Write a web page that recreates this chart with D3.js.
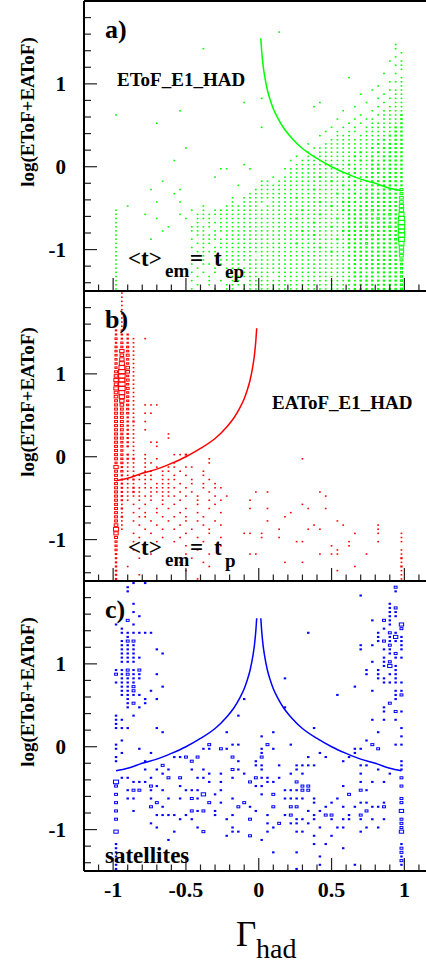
<!DOCTYPE html>
<html>
<head>
<meta charset="utf-8">
<script src="https://cdn.jsdelivr.net/npm/d3@7"></script>
<style>
  body { margin: 0; background: #fff; }
  svg { display: block; }
  text { font-family: "Liberation Serif", "Times New Roman", serif; }
</style>
</head>
<body>
<div id="chart"></div>
<script>
// axis ticks and labels
const xTickValues = [-1, -0.5, 0, 0.5, 1];
const xTickLabels = ["-1", "-0.5", "0", "0.5", "1"];
const yTickValues = [1, 0, -1];
const yTickLabels = ["1", "0", "-1"];

const panelTags = ["a)", "b)", "c)"];
const panelColors = ["#00ff00", "#ff0000", "#0000ff"];
const histNames = ["EToF_E1_HAD", "EAToF_E1_HAD", ""];

// histogram binning: 50 bins in Gamma (-1..1), 70 bins in log (2..-1.5), row 0 = top
const gammaBins = [-1, 1, 50];
const logBins = [2, -1.5, 70];

// box levels (0..9, '.' = empty), one string per row
const gridA = [
  ".......... .......... .......... .......... ..........",
  ".......... .......... .......... .......... ..........",
  ".......... .......... .......... .......... ..........",
  ".......... .......... .......... .......... ..........",
  ".......... .......... .......... .......... ..........",
  ".......... .......... .......... .......... ..........",
  ".......... .......... .......... .......... ..........",
  ".......... .......... ........1. .......... ..........",
  ".......... .......... .......... .......... ..........",
  ".......... .......... .......... .......... ..........",
  ".......... .......... .......... .......... ........1.",
  ".......... .....1.... .......... .......... ........1.",
  ".......... .......... .......... .......... .........1",
  ".......... .......... .......... .......... ........1.",
  ".......... .......... .......... .......... .......1.1",
  ".......... .......... .......... .......... ........11",
  ".......... .......... .......... .......... .........1",
  ".......... .......... .......... .......... ......1.1.",
  ".......... .......... .......... .......... 1........1",
  ".......... .......... .......... .......... .......111",
  ".......... .......... .......... .......... .....1...1",
  ".......... .......... .......... .......... ....1..111",
  ".......... .......... .......... .......... ..1...1.11",
  ".......... .......... .....1.... .......... .....1.111",
  ".......... .......... ..1....... .....1.... ...1..1.11",
  ".......... .......... .......... ....1..... .1...1.111",
  ".......... .1........ .......... .........1 ....1.1111",
  "1......... .......... .......... .......... ..1..11112",
  ".......... .......... .......... ........1. .1.11.1112",
  ".......1.. .......... .......... .......... 1.1.111112",
  ".......... .......... .....1.... .......1.1 .1.1111122",
  ".......... .......... .......... ......1.1. 11.1111122",
  ".......... .......... .......... .....1..11 1.11111222",
  ".......... .......... .......... .......111 1111112122",
  ".......... .......... .......... ...1..1111 1111121222",
  ".......... ..1....... .......... ....111111 1111212222",
  ".......... .......... .......... ...1.11111 1121121222",
  ".......... .......... .......... .1.1111111 1211212222",
  ".......... 1......... .......... 1.11111111 1121212222",
  ".......... .......... ..1....... .111111111 2111221222",
  ".......... ........11 ...1.....1 1111111111 1211222222",
  ".......... .......... .......... 1111111111 1211221222",
  ".......... .......1.. .......1.1 1111121111 2112212222",
  "........1. .......... .....11.11 1111111211 1211222222",
  ".......... .......... .1...11111 1111111112 1211222222",
  "......1... .1........ ....111111 1111211111 2112212224",
  ".......... 1......... ...1111111 1111111121 1212222224",
  ".......... .......... 1.11111111 1211111111 2122222225",
  ".......1.. .1........ 1.1111.111 1111121112 2212222225",
  "..1....... .....1...1 11111.1111 1111111211 2122222226",
  "1......... ...1.1.111 1111111111 1121111112 2222322226",
  "1....1.... .1..111111 1111111111 1111121111 2222222327",
  "1......1.. ..1.111.11 1111111111 1211111121 2222232228",
  "1......... ....1.1111 1111111111 1111211111 2222222229",
  "1........1 ...1111.11 1111111111 1111111211 2223222329",
  "1.......1. ...111.111 1111111111 1121111112 2222222228",
  "1......... ....1111.1 1111111111 1111211111 2222322229",
  "1.....1... ...1.11111 1111111111 1111111121 2222222238",
  "1......... ....111.11 1111111111 1211111111 2223222227",
  "1......... ...1.1.111 1111111111 1111121111 2222222226",
  "1......... ....1111.1 1111111111 1111111211 1222222226",
  "1......... ...1.1.1.1 1111.11111 1111111111 2222222225",
  "1......... ....11..11 1111111111 1111111111 1222222224",
  "1......... ...1.11.1. 11.1111111 1111111111 1212222223",
  "1......... ....1..1.1 1111111111 1111111111 2122222223",
  "1......... ...1.1.1.1 1.11111111 1111111111 1221222223",
  "1......... ....1.1..1 1111111.11 1111111111 1222212223",
  "1......... ...1..1.1. 11.1111111 1111111111 2122222223",
  "1......... ....1.1..1 1111111111 1111111111 1222222223",
  "1......... ...1...1.1 1.11111111 1111111111 1222222223"
];

const gridB = [
  ".1........ .......... .......... .......... ..........",
  ".1........ .......... .......... .......... ..........",
  ".1........ .......... .......... .......... ..........",
  ".1........ .......... .......... .......... ..........",
  ".1........ .......... .......... .......... ..........",
  ".1........ .......... .......... .......... ..........",
  ".1........ .......... .......... .......... ..........",
  ".1........ .......... .......... .......... ..........",
  ".1........ .......... .......... .......... ..........",
  "22........ .......... .......... .......... ..........",
  "222....... .......... .......... .......... ..........",
  "3221.1.... .......... .......... .......... ..........",
  "2321...... .......... .......... .......... ..........",
  "3331...... .......... .......... .......... ..........",
  "3631...... .......... .......... .......... ..........",
  "3541...... .......... .......... .......... ..........",
  "3631...... .......... .......... .......... ..........",
  "3731...... .......... .......... .......... ..........",
  "3851...... .......... .......... .......... ..........",
  "4951...... .......... .......... .......... ..........",
  "5931...... .......... .......... .......... ..........",
  "6841...... .......... .......... .......... ..........",
  "5931...... .......... .......... .......... ..........",
  "6941...... .......... .......... .......... ..........",
  "5831...... .......... .......... .......... ..........",
  "5731...... .......... .......... .......... ..........",
  "4631...... .......... .......... .......... ..........",
  "4531.111.. .......... .......... .......... ..........",
  "4431...... .......... .......... .......... ..........",
  "4431.11... .......... .......... .......... ..........",
  "4421...... .......... .......... .......... ..........",
  "4422.1.... .......... .......... .......... ..........",
  "4421...... .......... .......... .......... ..........",
  "4421.1.... .......... .......... .......... ..........",
  "4321.....1 .......... .......... .......... ..........",
  "4421.....1 .......... .......... .......... ..........",
  "4321..11.. .......... .......... .......... ..........",
  "4321...1.. .......... .......... .......... ..........",
  "43.1...... .......... .......... .......... ..........",
  "4321.1.... 112....... .......... .......... ..........",
  "4322.1.1.. ......1... .......... ..1....... ..........",
  "3311.11... 1.....1... .......... .......... ..........",
  "6211.1.1.1 1.11...... .......... .......... ..........",
  "4311.11.11 .1...1.... .......... .......... ..........",
  "4211111.1. 1.1..1.... .......... .......... ..........",
  "4212111.11 1..1..1... .......... .......... ..........",
  "4211.1.111 .1.1.1.1.. .......... .......... ..........",
  "4212111111 1.1..1.11. .......... .......... ..........",
  "42121.1111 .1.1..1... ....1.1... .....1.... ..........",
  "4211111.11 1.1.1..1.1 .......... ......1... ..........",
  "421.1.1.1. .1..1.1.1. ...1...... .......... ..........",
  "41.1.1..1. 1...1..1.. .......... ..1....... ..........",
  "42..1..1.1 ..1...1... ...1..1... ...1..1... ..........",
  "41.1.1.1.. .1..1...1. .......... 1......... ..........",
  "42..11..1. 1.1..1.... .........1 .......... ..........",
  "41.1..1..1 ..1.1..1.. ......1... ........1. ..........",
  "51..1..1.. .1...1..1. .......... ....1....1 .....1....",
  "71...1..1. 1..1..1... ........1. ...1.1.... .....1....",
  "6..1..1... ..1...1... ..11.1.... .......... .1...1...1",
  "4...1...1. .1..1...1. .....1..1. .......... .........1",
  "3..1...1.. 1....1.... .......... .11....... 1....1...1",
  "3....1.... ..1.....1. .......... .......1.. 1.........",
  "3..1...... ....1..... .......... ........1. .........1",
  "2.....1... ..1...1... ...11..... .....1.11. ...1.....1",
  "2...1..... ...1...... .......... .......... .........2",
  "2......... .1...1.... .........1 ..1....... .........1",
  "2.1....... ......1... .......... .......... .1.......2",
  "2......... ..1....... .......... ........1. .........1",
  "2...1..... .......... .......... .......... .........1",
  "2......... ....1..... .......... .......... .........1"
];

const gridC = [
  "...2.2.... .......... .......... .......... ..........",
  "..2....... .......... .......... .......... ........4.",
  "..2....... .......... .......... .......... ........2.",
  ".......... .......... .......... .......... ..2.......",
  ".......... .......... .......... .......... ..........",
  "...2...... .......... .......... .......... .......2..",
  ".......... .......... .......... .......... .......24.",
  "...2...... .......... .......... .......... .......22.",
  "....2..... .......... .......... .......... .......22.",
  "..4....... .......... .......... .......... ....2.42..",
  "2..2...... .......... .......... .......... .......2.6",
  ".2........ .......... .......... .......... ......2..4",
  ".222222... .......... .......... ...2...... .....2.42.",
  "..2....... .......... .......... .......... .....2.262",
  ".244...... .......... .......... .......... .....24222",
  ".222...... .......... .......... .......... ..2.2..4.2",
  ".222...2.. .......... .......... .......... ..2...22.2",
  ".222....2. .......... .......... .......... .......24.",
  ".2222..... .......... .......... .......... ......2.22",
  ".222...... .......... .......... .......... ....2.24..",
  ".......... .......... .......... .......... ......262.",
  "22424..... .......... .......... .......... ...2.2..2.",
  "42422..2.. .......... .......... .......... ...2.2.22.",
  ".2222..... .......... .........2 .......... .....22.2.",
  "2222...... .......... .......... .......... ......2222",
  ".224....2. .......... .......... .......... .2........",
  ".224..2... .......... .......... .......... ....2...22",
  ".2222..... .......... .......... ........2. ........24",
  "..2..2.2.. .......... ..2....... .......... ........2.",
  "..24.2.... .......... .......... .......... .......4..",
  "..2.2..... .......... .........2 .......... ......2...",
  ".......... .......... .......... .......... ......2.42",
  "2..2...... .......... .2........ .......... ..........",
  "22........ .......... .......... .......... ....2.2.2.",
  "2......... .......... .......... .......... ..........",
  "222....2.. .......... .......... ....2..... .........2",
  "........2. .........2 .......2.. .......... .....2....",
  ".......... .......... .....2.... .......... .........2",
  ".2........ .......... .......... .......... ...2......",
  "2......... ......4... 22....4... 2......... ....4...22",
  "2...2..... .....22.42 .....2.2.. .......... .22..4....",
  ".2....2... .......... .....2.... .....2.... .2........",
  "2......... 224.4..... 4....4.... ...2..2... 2.........",
  "2....2.... ...4...... .2..2..... .........2 .........2",
  "........4. .......... ....22..2. .2222..... ..22.....2",
  ".....2.2.2 ...2.2.... 42...2.... .2........ .....2...2",
  "........2. ......2.2. ..2....... 2.2....... ..2....2..",
  ".22...2..4 .4..22.... 2...422.2. .......... .........4",
  "7..222.... ......2.2. ...4..22.. .4........ ..2.2.2...",
  "4.....42.. .2........ ....22.... ..44.....2 .........4",
  "..244.2.2. ..222...2. .........2 2244...... ..42......",
  "4......... .....6.2.. .....2.4.. .......... 4.........",
  "..22..2..2 .2.42..... 2........2 222.2...2. .........4",
  "4......4.. ......4.2. ..4....... ....2..2.. ..22..2..4",
  "......4.2. .......... .4.2...4.. 44....2..2 .2..224...",
  "4..2...... ...424.2.. ....2..... ...2.2.... ...4.....6",
  ".......222 2.2....2.. 2.....2..2 4...2.44.. 2.4.......",
  "4......... .2.2.....2 ...4...... .22.2..2.2 2.2.2.2..4",
  "......2... .......... ......2.4. 22.2...... .........4",
  ".......2.. ....2..... 2......2.. .....2..22 ...2.2...4",
  "6......... 2....4.... 22....2... .22....... ..2......6",
  ".......... .........2 ...4...... ....2..2.. ..........",
  ".........2 .......... .....2.... .......... ..........",
  "2......... .......... .......... ....2.2... .........2",
  "2......... .......... .......... .........2 .........4",
  "2......... .......... .......2.. .2........ .........4",
  "2......... .......... .......... .....2.... .........2",
  "2......... .......... .......... .......... .........4",
  "2......... .......... .......... .....2.... .2.......2",
  "2......... .......... .......... .2........ .........."
];
const grids = [gridA, gridB, gridC];

// curve: log(EToF+EAToF) versus |Gamma_had|
const curveGamma = [0.014, 0.02, 0.03, 0.04, 0.06, 0.08, 0.1, 0.13, 0.17, 0.22, 0.3, 0.4, 0.5, 0.6, 0.7, 0.8, 0.9, 0.98];
const curveLog = [1.55, 1.40, 1.22, 1.10, 0.92, 0.80, 0.70, 0.59, 0.47, 0.36, 0.22, 0.10, 0.00, -0.08, -0.15, -0.20, -0.26, -0.29];
const curveSides = [[1], [-1], [-1, 1]];

const W = 426, H = 966;
const panelTops = [1, 291, 581];
const panelH = 290;
const left = 84, right = 433.5;
const boxScale = 1.12;

const x = d3.scaleLinear().domain([-1.2, 1.2]).range([left, right]);

const svg = d3.select("#chart").append("svg")
    .attr("width", W)
    .attr("height", H);

panelTops.forEach((top, k) => drawPanel(k, top));
drawXLabels();

function drawPanel(k, top) {
    const y = d3.scaleLinear().domain([-1.5, 2]).range([top + panelH, top]);
    const g = svg.append("g");
    const color = panelColors[k];

    // boxes, side proportional to bin content
    const gw = (gammaBins[1] - gammaBins[0]) / gammaBins[2];
    const lh = (logBins[0] - logBins[1]) / logBins[2];
    const cellW = (x(gw) - x(0)) * boxScale;
    const cellH = (y(0) - y(lh)) * boxScale;
    const cells = [];
    grids[k].forEach((row, j) => {
        row.replace(/ /g, "").split("").forEach((c, i) => {
            if (c !== ".") cells.push({ i: i, j: j, lvl: +c });
        });
    });
    g.selectAll("rect.box")
        .data(cells)
        .enter()
        .append("rect")
        .attr("class", "box")
        .attr("x", d => x(gammaBins[0] + gw * (d.i + 0.5)) - cellW * d.lvl / 9 / 2)
        .attr("y", d => y(logBins[0] - lh * (d.j + 0.5)) - cellH * d.lvl / 9 / 2)
        .attr("width", d => cellW * d.lvl / 9)
        .attr("height", d => cellH * d.lvl / 9)
        .attr("fill", "none")
        .attr("stroke", color)
        .attr("stroke-width", 1);

    // curve
    const line = d3.line()
        .x(d => x(d[0]))
        .y(d => y(d[1]))
        .curve(d3.curveMonotoneX);
    curveSides[k].forEach(s => {
        let pts = curveGamma.map((gm, n) => [s * gm, curveLog[n]]);
        pts.sort((a, b) => a[0] - b[0]);
        g.append("path")
            .datum(pts)
            .attr("fill", "none")
            .attr("stroke", color)
            .attr("stroke-width", 1.5)
            .attr("d", line);
    });

    // y ticks (inward)
    const yMinor = d3.range(-14, 20, 2).map(v => v / 10);
    yMinor.forEach(v => {
        const major = Math.abs(v - Math.round(v)) < 1e-6;
        g.append("line")
            .attr("x1", left).attr("x2", left + (major ? 13 : 7))
            .attr("y1", y(v)).attr("y2", y(v))
            .attr("stroke", "#222").attr("stroke-width", 1.2);
    });
    yTickValues.forEach((v, n) => {
        g.append("text")
            .attr("x", 66)
            .attr("y", y(v))
            .attr("dy", "0.35em")
            .attr("text-anchor", "end")
            .attr("font-size", 21)
            .attr("font-weight", "bold")
            .text(yTickLabels[n]);
    });

    // x ticks (inward, at panel bottom)
    const bottom = top + panelH;
    d3.range(-12, 13).map(v => v / 10).forEach(v => {
        const major = Math.abs(v * 2 - Math.round(v * 2)) < 1e-6 && Math.abs(v) <= 1;
        g.append("line")
            .attr("x1", x(v)).attr("x2", x(v))
            .attr("y1", bottom).attr("y2", bottom - (major ? 13 : 6.5))
            .attr("stroke", "#222").attr("stroke-width", 1.2);
    });

    // frame
    g.append("line").attr("x1", left).attr("x2", W).attr("y1", top).attr("y2", top)
        .attr("stroke", "#000").attr("stroke-width", 2);
    g.append("line").attr("x1", left).attr("x2", W).attr("y1", bottom).attr("y2", bottom)
        .attr("stroke", "#000").attr("stroke-width", 2);
    g.append("line").attr("x1", left).attr("x2", left).attr("y1", top).attr("y2", bottom)
        .attr("stroke", "#000").attr("stroke-width", 2);

    // y title
    g.append("text")
        .attr("transform", `translate(34,${top + 111}) rotate(-90)`)
        .attr("text-anchor", "middle")
        .attr("font-size", 19)
        .attr("font-weight", "bold")
        .text("log(EToF+EAToF)");

    // panel tag
    g.append("text")
        .attr("x", 105).attr("y", top + 37)
        .attr("font-size", 26).attr("font-weight", "bold")
        .text(panelTags[k]);

    if (k === 0) {
        g.append("text").attr("x", 117).attr("y", 86)
            .attr("font-size", 19).attr("font-weight", "bold").text(histNames[0]);
        drawTime(g, 266, "ep");
    } else if (k === 1) {
        g.append("text").attr("x", 272).attr("y", 409)
            .attr("font-size", 19).attr("font-weight", "bold").text(histNames[1]);
        drawTime(g, 555, "p");
    } else {
        g.append("text").attr("x", 105).attr("y", 863)
            .attr("font-size", 23).attr("font-weight", "bold").text("satellites");
    }
}

function drawTime(g, base, sub) {
    const t = g.append("g").attr("font-weight", "bold");
    t.append("text").attr("x", 128).attr("y", base).attr("font-size", 23).text("<t>");
    t.append("text").attr("x", 165).attr("y", base + 11).attr("font-size", 19).text("em");
    t.append("text").attr("x", 190).attr("y", base).attr("font-size", 23).text("=");
    t.append("text").attr("x", 214).attr("y", base).attr("font-size", 23).text("t");
    t.append("text").attr("x", 225).attr("y", base + 12).attr("font-size", 19).text(sub);
}

function drawXLabels() {
    xTickValues.forEach((v, n) => {
        svg.append("text")
            .attr("x", x(v))
            .attr("y", 897)
            .attr("text-anchor", "middle")
            .attr("font-size", 22)
            .attr("font-weight", "bold")
            .text(xTickLabels[n]);
    });
    // Gamma with subscript "had"
    svg.append("text").attr("x", 236).attr("y", 946).attr("font-size", 35).text("Γ");
    svg.append("text").attr("x", 256).attr("y", 958).attr("font-size", 28).text("had");
}
</script>
</body>
</html>
